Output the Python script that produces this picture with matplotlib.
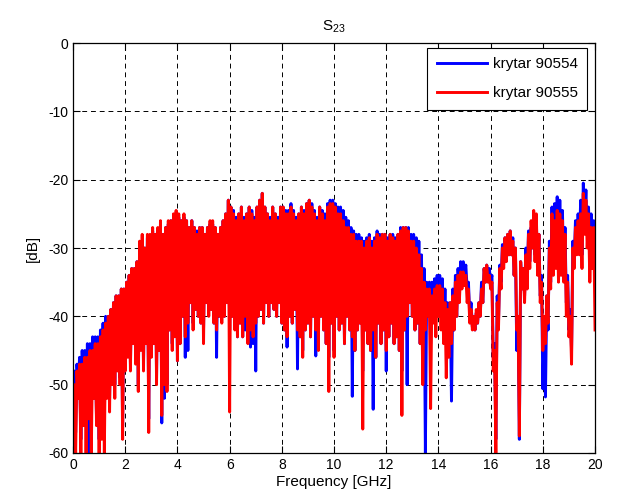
import matplotlib
matplotlib.use('Agg')
import numpy as np
import matplotlib.pyplot as plt

# S23 readings: the trough at every 0.1 GHz (0 .. 20 GHz)
# and the crest between two troughs (0.05 .. 19.95 GHz)
dips_90554 = [
    -52,
    -57, -50, -58, -52, -56, -60, -50, -52, -55, -58,
    -52, -55, -50, -52, -49, -50, -47, -49, -56, -47,
    -45, -47, -43, -46, -50, -44, -47, -43, -55, -45,
    -44, -49, -45, -55.6, -52, -50, -42, -44, -42, -46.5,
    -44, -40, -46, -45, -38, -41, -39, -40, -41, -42,
    -38, -39, -39, -41, -46, -40, -40, -40, -38, -42,
    -40, -41, -43, -41, -43, -42, -43, -44.5, -44, -48,
    -40, -39, -41, -38, -40, -38, -39, -40, -38, -41,
    -42, -44.5, -40, -41, -39, -47.7, -43, -45, -42, -41,
    -43, -40, -45.8, -44, -40, -42, -44, -46, -41, -45,
    -40, -42, -41, -44, -40, -42, -51.7, -45, -42, -41,
    -48, -42, -44, -45, -53.6, -46, -41, -44, -42, -48,
    -43, -41, -44, -43, -45, -48, -42, -50, -38, -40,
    -42, -41, -44, -45, -60, -40, -44, -38, -40, -38,
    -40, -42, -44, -44, -52.4, -42, -40, -36, -34, -33.5,
    -36, -40, -41.5, -42, -41, -40, -38, -35, -34.5, -35,
    -46, -58, -41, -35, -32, -31, -31, -31, -34, -45,
    -58, -36, -37, -35, -32, -30, -31, -33, -37, -50.6,
    -51.8, -42, -35, -32, -31, -33, -32, -33, -38, -42,
    -45, -32, -30, -29, -31, -26, -28, -31, -31, -33,
]

peaks_90554 = [
    -48, -47, -46, -45, -45, -44, -44, -43, -43, -43,
    -42, -41, -40, -40, -39, -38, -37, -37, -36, -36,
    -35, -34, -33, -33, -32, -30, -29, -30, -28.5, -28.5,
    -27.5, -28, -27.5, -26.5, -28, -27, -26.5, -26, -25.5, -25,
    -25.5, -26, -25.5, -26, -27, -26, -27, -27.5, -27, -27,
    -28, -27, -26.5, -26.5, -27, -28, -27, -26, -25, -23,
    -24, -24.5, -25.5, -25, -24, -25.5, -25, -24, -24.5, -25.5,
    -24, -23, -22, -24, -25, -25.5, -24, -25, -25.5, -24,
    -24, -24.5, -24.5, -23.5, -24.5, -25.5, -25, -24, -24.5, -23.5,
    -23, -23.5, -24.5, -25.5, -24, -24.5, -25, -23.5, -23, -23,
    -23.5, -24, -24, -24.5, -25.5, -26, -27, -27.5, -28, -28,
    -28.5, -29, -28.5, -28, -29, -28.5, -27.5, -28, -28, -28,
    -28.5, -28, -28, -28.5, -28, -27, -27, -27, -27, -28,
    -28, -28.5, -29, -31, -33, -35, -35, -35, -34.5, -34,
    -34, -34.5, -36, -38, -38, -36, -34, -33, -32, -32,
    -32.5, -35, -38, -40, -39.5, -38, -35, -33, -32.5, -33,
    -34, -44, -37, -32.5, -29.5, -28.5, -28, -27.5, -28.5, -30,
    -40, -32, -33, -30, -27.5, -27, -26, -26, -28, -34,
    -42, -37, -29, -24, -23.5, -22.5, -23, -24.5, -27, -34,
    -39, -29, -26, -25, -23, -20.5, -21.5, -24, -25, -26,
]

dips_90555 = [
    -55,
    -60, -52, -60, -56, -60, -55, -60, -52, -56, -60,
    -58, -60, -52, -54, -50, -52, -48, -50, -58, -48,
    -46, -48, -44, -47, -51, -45, -48, -44, -57, -46,
    -44, -50, -45, -54.5, -50, -51, -42, -45, -43, -46.5,
    -44, -40, -43, -41, -38, -42, -39, -40, -41, -44,
    -38, -40, -39, -41, -42, -40, -41, -40, -38, -54,
    -40, -42, -43, -41, -43, -40, -44, -42, -43, -41,
    -40, -39, -41, -38, -40, -38, -39, -40, -38, -41,
    -42, -43, -40, -41, -39, -42, -43, -46, -42, -41,
    -43, -40, -42, -45, -40, -42, -44, -51, -41, -46,
    -40, -42, -41, -44, -40, -42, -43, -45, -42, -41,
    -56.5, -42, -44, -45, -42, -46, -41, -44, -42, -45,
    -43, -41, -44, -43, -45, -54.5, -42, -40, -38, -40,
    -42, -41, -44, -50, -42, -40, -53.5, -41, -43, -40,
    -42, -44, -49, -46, -44, -42, -40, -38, -36, -35.5,
    -38, -41, -42, -42, -41, -40, -38, -35, -35, -36,
    -48, -60, -42, -36, -33, -32, -31, -31, -34, -42,
    -57.5, -36, -38, -36, -33, -30, -32, -34, -38, -45,
    -44, -41, -36, -34, -33, -35, -34, -35, -40, -43,
    -47, -33, -31, -31, -33, -28, -30, -35, -33, -42,
]

peaks_90555 = [
    -50, -48, -47, -47, -46, -46, -45, -45, -44, -44,
    -43, -42, -41, -40, -39, -38, -37, -37, -36, -36,
    -35, -34, -33, -33, -32, -29, -28, -30, -28, -28,
    -27, -28, -27, -26, -28, -27, -26, -26, -25, -24.5,
    -25, -26, -25, -26, -27, -26, -27, -28, -27, -27,
    -28, -27, -26, -26, -27, -28, -27, -26, -25, -23,
    -24, -25, -26, -25, -24, -26, -25, -24, -25, -26,
    -24, -23, -22, -24, -25, -26, -24, -25, -26, -24,
    -24, -25, -25, -24, -25, -26, -25, -24, -25, -23.5,
    -23, -24, -25, -26, -24, -25, -26, -24, -23.5, -23.5,
    -24, -25, -25, -26, -27, -27, -28, -28, -29, -29,
    -29, -30, -29, -28.5, -30, -29, -28, -28.5, -28, -28,
    -29, -28, -28.5, -29, -28, -27.5, -27, -27, -27.5, -29,
    -29, -30, -31, -33, -35, -36, -36, -37, -36, -35.5,
    -35.5, -36, -38, -39, -38, -37, -35, -34, -33.5, -33.5,
    -34, -36, -39, -40, -39, -38, -36, -33, -32.5, -34,
    -35, -45, -38, -33, -30, -28.5, -28, -27.5, -29, -30,
    -40, -32, -33, -31, -28, -26, -24.5, -25, -28, -35,
    -40, -37, -30, -25, -26, -24.5, -25, -26, -28, -35,
    -40, -30, -27, -26, -25, -22, -23, -25, -27, -27,
]


def trace(dips, peaks):
    # put the troughs and crests back in frequency order
    f = np.empty(len(dips) + len(peaks))
    v = np.empty(len(dips) + len(peaks))
    f[0::2] = np.arange(len(dips)) * 0.1
    f[1::2] = 0.05 + np.arange(len(peaks)) * 0.1
    v[0::2] = dips
    v[1::2] = peaks
    return f, v


plt.rcParams['font.family'] = ['Liberation Sans', 'DejaVu Sans']
plt.rcParams['mathtext.default'] = 'regular'
plt.rcParams['axes.unicode_minus'] = False

fig = plt.figure(figsize=(6.21, 4.99), dpi=100)
ax = fig.add_axes([0.1176, 0.0922, 0.8406, 0.8216])

f1, v1 = trace(dips_90554, peaks_90554)
f2, v2 = trace(dips_90555, peaks_90555)
ax.plot(f1, v1, color='#0000ff', linewidth=2.1, label='krytar 90554')
ax.plot(f2, v2, color='#ff0000', linewidth=2.1, label='krytar 90555')

ax.set_xlim(0, 20)
ax.set_ylim(-60, 0)
ax.set_xticks(np.arange(0, 21, 2))
ax.set_yticks(np.arange(-60, 1, 10))
ax.tick_params(direction='in', top=True, right=True, length=5, labelsize=10, width=0.8)
ax.grid(True, color='black', linestyle=(0, (5, 4)), linewidth=0.7)
for sp in ax.spines.values():
    sp.set_linewidth(0.9)

ax.set_title('S$_{23}$', fontsize=11, pad=9)
ax.set_xlabel('Frequency [GHz]', fontsize=11, labelpad=2)
ax.set_ylabel('[dB]', fontsize=11, labelpad=6)

leg = ax.legend(loc='upper right', bbox_to_anchor=(0.985, 0.988), borderaxespad=0,
                fancybox=False, edgecolor='black', framealpha=1, fontsize=11,
                handlelength=3.3, handletextpad=0.4, labelspacing=1.0, borderpad=0.6)
leg.get_frame().set_linewidth(0.8)

fig.savefig('out.png', dpi=100)
